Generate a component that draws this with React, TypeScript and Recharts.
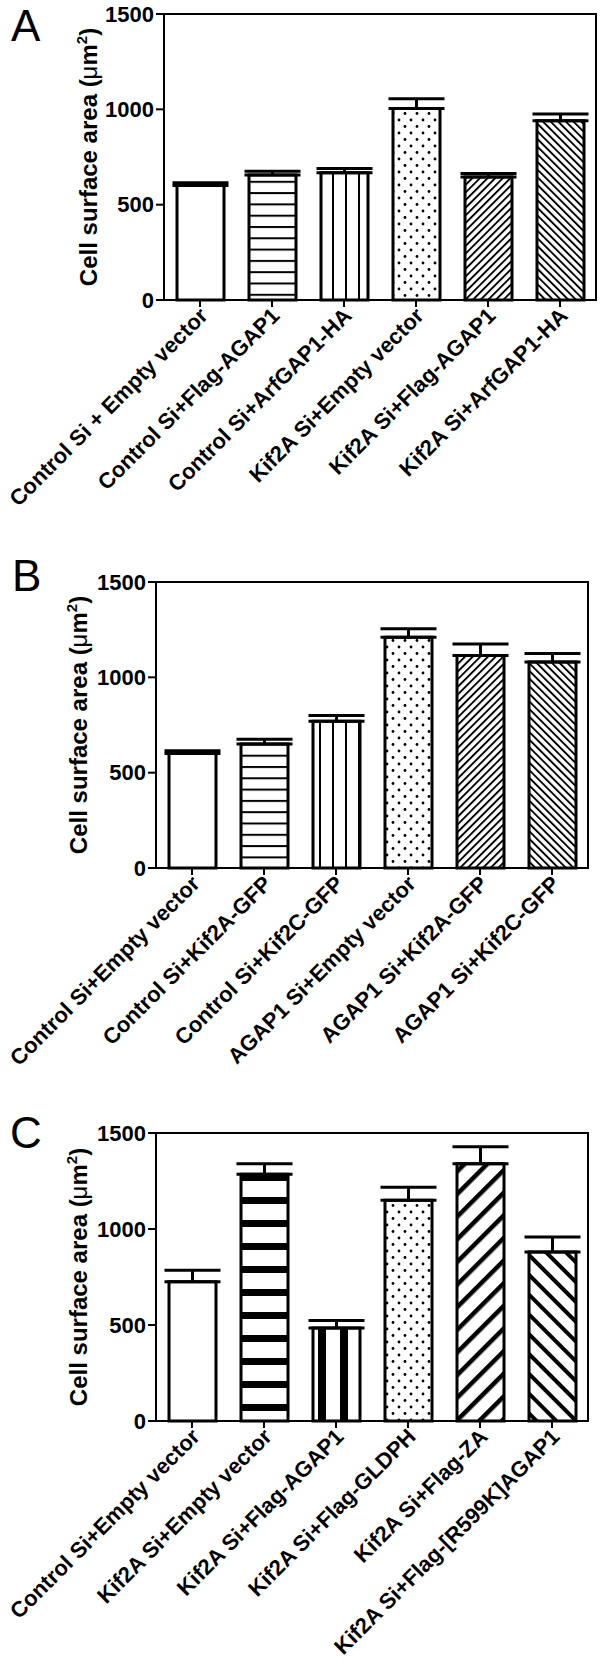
import React from 'react';
import { BarChart, Bar, XAxis, YAxis, Cell, ErrorBar, ReferenceArea } from 'recharts';

const categoriesA = [
  'Control Si + Empty vector',
  'Control Si+Flag-AGAP1',
  'Control Si+ArfGAP1-HA',
  'Kif2A Si+Empty vector',
  'Kif2A Si+Flag-AGAP1',
  'Kif2A Si+ArfGAP1-HA',
];
const meansA = [600, 655, 668, 1005, 645, 940];
const semA = [15, 20, 22, 50, 18, 35];

const categoriesB = [
  'Control Si+Empty vector',
  'Control Si+Kif2A-GFP',
  'Control Si+Kif2C-GFP',
  'AGAP1 Si+Empty vector',
  'AGAP1 Si+Kif2A-GFP',
  'AGAP1 Si+Kif2C-GFP',
];
const meansB = [600, 650, 770, 1210, 1115, 1080];
const semB = [15, 25, 30, 45, 60, 45];

const categoriesC = [
  'Control Si+Empty vector',
  'Kif2A Si+Empty vector',
  'Kif2A Si+Flag-AGAP1',
  'Kif2A Si+Flag-GLDPH',
  'Kif2A Si+Flag-ZA',
  'Kif2A Si+Flag-[R599K]AGAP1',
];
const meansC = [725, 1285, 485, 1150, 1340, 880];
const semC = [60, 55, 38, 68, 88, 78];

const yTicks = [0, 500, 1000, 1500];

const fillsThin = ['#fff', 'url(#hThin)', 'url(#vThin)', 'url(#dots)', 'url(#diagUp)', 'url(#diagDown)'];
const fillsThick = ['#fff', 'url(#hThick)', 'url(#vThick)', 'url(#dots)', 'url(#diagUpThick)', 'url(#diagDownThick)'];

const FONT = '"Liberation Sans", Arial, sans-serif';

const buildRows = (cats: string[], means: number[], sems: number[]) =>
  cats.map((name, i) => ({ name, mean: means[i], err: [0, sems[i]] }));

const XTick = (props: any) => {
  const { x, y, payload } = props;
  return (
    <g transform={`translate(${x},${y})`}>
      <text
        transform="translate(9,8) rotate(-45)"
        textAnchor="end"
        fontFamily={FONT}
        fontWeight="bold"
        fontSize={22}
        fill="#000"
      >
        {payload.value}
      </text>
    </g>
  );
};

const Patterns = () => (
  <svg width={0} height={0} style={{ position: 'absolute' }}>
    <defs>
      <pattern id="hThin" patternUnits="userSpaceOnUse" width={20} height={11.3}>
        <rect width={20} height={11.3} fill="#fff" />
        <rect y={0} width={20} height={2} fill="#000" />
      </pattern>
      <pattern id="vThin" patternUnits="userSpaceOnUse" width={13} height={20}>
        <rect width={13} height={20} fill="#fff" />
        <rect x={7} width={2} height={20} fill="#000" />
      </pattern>
      <pattern id="dots" patternUnits="userSpaceOnUse" width={12} height={13}>
        <rect width={12} height={13} fill="#fff" />
        <circle cx={3} cy={3} r={1.4} fill="#000" />
        <circle cx={9} cy={9.5} r={1.4} fill="#000" />
      </pattern>
      <pattern id="diagUp" patternUnits="userSpaceOnUse" width={5.4} height={20} patternTransform="rotate(45)">
        <rect width={5.4} height={20} fill="#fff" />
        <rect width={1.9} height={20} fill="#000" />
      </pattern>
      <pattern id="diagDown" patternUnits="userSpaceOnUse" width={5.4} height={20} patternTransform="rotate(-45)">
        <rect width={5.4} height={20} fill="#fff" />
        <rect width={1.9} height={20} fill="#000" />
      </pattern>
      <pattern id="hThick" patternUnits="userSpaceOnUse" width={20} height={23}>
        <rect width={20} height={23} fill="#fff" />
        <rect y={0} width={20} height={7} fill="#000" />
      </pattern>
      <pattern id="vThick" patternUnits="userSpaceOnUse" width={22} height={20}>
        <rect width={22} height={20} fill="#fff" />
        <rect x={10} width={8} height={20} fill="#000" />
      </pattern>
      <pattern id="diagUpThick" patternUnits="userSpaceOnUse" width={16} height={20} patternTransform="rotate(45)">
        <rect width={16} height={20} fill="#fff" />
        <rect width={4.5} height={20} fill="#000" />
      </pattern>
      <pattern id="diagDownThick" patternUnits="userSpaceOnUse" width={14} height={20} patternTransform="rotate(-45)">
        <rect width={14} height={20} fill="#fff" />
        <rect width={4} height={20} fill="#000" />
      </pattern>
    </defs>
  </svg>
);

interface PanelProps {
  top: number;
  height: number;
  plotTop: number;
  plotBottom: number;
  plotLeft: number;
  plotRight: number;
  labelX: number;
  rows: { name: string; mean: number; err: number[] }[];
  fills: string[];
}

const Panel = ({ top, height, plotTop, plotBottom, plotLeft, plotRight, labelX, rows, fills }: PanelProps) => {
  const yLabel = (p: any) => {
    const vb = p.viewBox || {};
    const cy = (vb.y ?? plotTop) + (vb.height ?? plotBottom - plotTop) / 2;
    return (
      <text
        transform={`translate(${labelX},${cy}) rotate(-90)`}
        textAnchor="middle"
        dy={9}
        fontFamily={FONT}
        fontWeight="bold"
        fontSize={24}
        fill="#000"
      >
        Cell surface area (
        <tspan fontWeight="normal">μ</tspan>m
        <tspan dy={-10} fontSize={15}>2</tspan>
        <tspan dy={10}>)</tspan>
      </text>
    );
  };
  return (
    <div style={{ position: 'absolute', left: 0, top, width: 600, height }}>
      <BarChart
        width={600}
        height={height}
        data={rows}
        margin={{ top: plotTop, right: 600 - plotRight, left: 0, bottom: 0 }}
        barSize={47}
      >
        <XAxis
          dataKey="name"
          interval={0}
          height={height - plotBottom}
          tick={<XTick />}
          tickSize={7}
          axisLine={{ stroke: '#000', strokeWidth: 2 }}
          tickLine={{ stroke: '#000', strokeWidth: 2 }}
        />
        <YAxis
          width={plotLeft}
          domain={[0, 1500]}
          ticks={yTicks}
          interval={0}
          tickSize={8}
          axisLine={{ stroke: '#000', strokeWidth: 2 }}
          tickLine={{ stroke: '#000', strokeWidth: 2 }}
          tick={{ fill: '#000', fontFamily: FONT, fontWeight: 'bold', fontSize: 22 }}
          label={{ content: yLabel }}
        />
        <ReferenceArea y1={0} y2={1500} fill="none" stroke="#000" strokeWidth={2} ifOverflow="visible" />
        <Bar dataKey="mean" isAnimationActive={false} stroke="#000" strokeWidth={3}>
          {rows.map((r, i) => (
            <Cell key={r.name} fill={fills[i]} stroke="#000" strokeWidth={3} />
          ))}
          <ErrorBar dataKey="err" width={28} stroke="#000" strokeWidth={3} direction="y" />
        </Bar>
      </BarChart>
    </div>
  );
};

export default function App() {
  return (
    <div style={{ position: 'absolute', left: 0, top: 0, width: 600, height: 1674, background: '#fff' }}>
      <Patterns />
      <Panel
        top={0}
        height={540}
        plotTop={14}
        plotBottom={300}
        plotLeft={164}
        plotRight={596}
        labelX={88}
        rows={buildRows(categoriesA, meansA, semA)}
        fills={fillsThin}
      />
      <Panel
        top={540}
        height={565}
        plotTop={42}
        plotBottom={328}
        plotLeft={156}
        plotRight={588}
        labelX={78}
        rows={buildRows(categoriesB, meansB, semB)}
        fills={fillsThin}
      />
      <Panel
        top={1105}
        height={569}
        plotTop={28}
        plotBottom={316}
        plotLeft={156}
        plotRight={588}
        labelX={78}
        rows={buildRows(categoriesC, meansC, semC)}
        fills={fillsThick}
      />
      <svg width={600} height={1674} style={{ position: 'absolute', left: 0, top: 0, pointerEvents: 'none' }}>
        <g fontFamily={FONT} fontSize={44} fill="#000">
          <text x={11} y={41}>A</text>
          <text x={12} y={591}>B</text>
          <text x={10} y={1148}>C</text>
        </g>
      </svg>
    </div>
  );
}
